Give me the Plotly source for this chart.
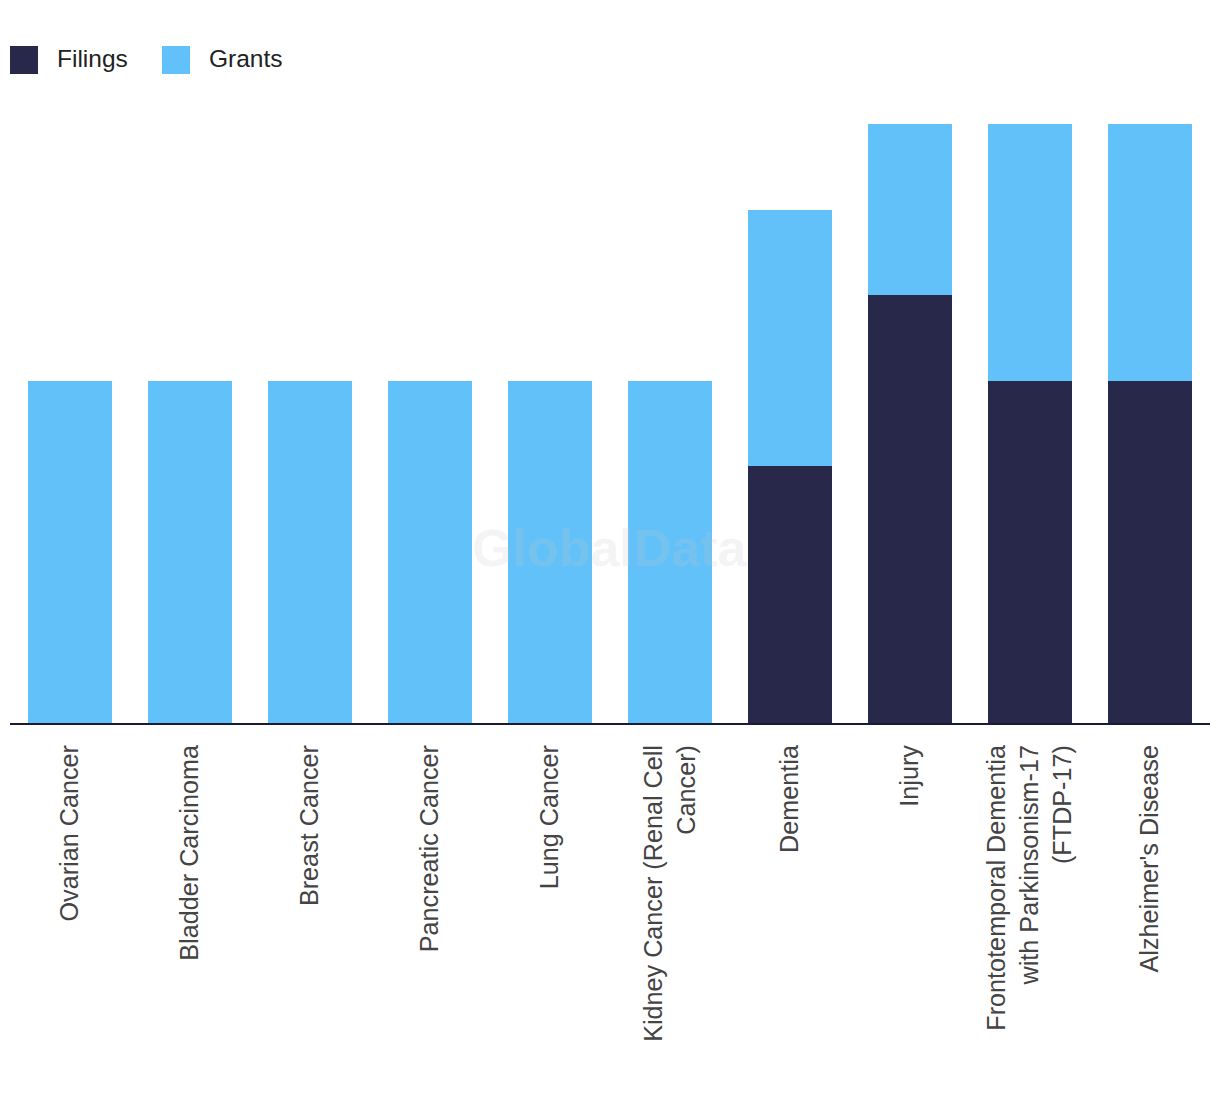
import plotly.graph_objects as go

categories = [
    "Ovarian Cancer", "Bladder Carcinoma", "Breast Cancer", "Pancreatic Cancer",
    "Lung Cancer", "Kidney Cancer (Renal Cell<br>Cancer)", "Dementia", "Injury",
    "Frontotemporal Dementia<br>with Parkinsonism-17<br>(FTDP-17)", "Alzheimer's Disease",
]
filings = [0, 0, 0, 0, 0, 0, 3, 5, 4, 4]
grants = [4, 4, 4, 4, 4, 4, 3, 2, 3, 3]
series_names = ["Filings", "Grants"]
series_colors = ["#28284b", "#62c1f9"]

FONT = "Liberation Sans, Arial, sans-serif"

fig = go.Figure()
for name, vals, col in zip(series_names, [filings, grants], series_colors):
    fig.add_trace(go.Bar(name=name, x=categories, y=vals, marker_color=col,
                         marker_line_width=0))

# page body has an 8px margin; figure is sized/placed to compensate
fig.update_layout(
    barmode="stack",
    bargap=0.3,
    width=1212, height=1086,
    margin=dict(l=2, r=10, t=116, b=371, autoexpand=False),
    paper_bgcolor="white", plot_bgcolor="white",
    font=dict(family=FONT, color="#333333"),
    showlegend=False,
    xaxis=dict(tickangle=-90, tickfont=dict(size=25.2, color="#444444"),
               showline=True, linecolor="#1a1a33", linewidth=2,
               ticks="", showgrid=False, automargin=False,
               ticklabelstandoff=10),
    yaxis=dict(visible=False, range=[0, 7], showgrid=False, automargin=False),
)

# custom legend (large square swatches)
legend_x = [10, 162]
for name, col, lx in zip(series_names, series_colors, legend_x):
    fig.add_shape(type="rect", xref="paper", yref="paper",
                  x0=(lx - 10) / 1200, x1=(lx + 18) / 1200,
                  y0=(723 - 74) / 599, y1=(723 - 46) / 599,
                  fillcolor=col, line_width=0)
    fig.add_annotation(text=name, xref="paper", yref="paper",
                       x=(lx + 35) / 1200, y=(723 - 58) / 599,
                       xanchor="left", yanchor="middle", showarrow=False,
                       font=dict(size=24.5, family=FONT, color="#222222"))

fig.add_annotation(text="<b>GlobalData</b>", x=0.5, y=(723 - 548) / 599,
                   xref="paper", yref="paper", xanchor="center", yanchor="middle",
                   showarrow=False, font=dict(size=52, family=FONT,
                                              color="rgba(200,200,200,0.2)"))

fig.write_html("out.html")
